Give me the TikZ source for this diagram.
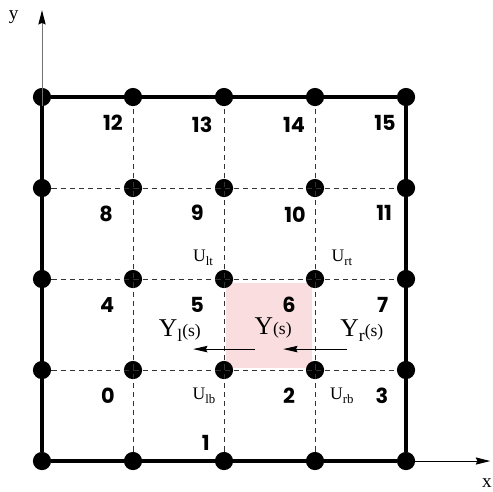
\documentclass[tikz,border=0pt]{standalone}
\usepackage{fontspec}
\setmainfont{Liberation Serif}
\newfontfamily\numfont{Poppins}
\usepackage{tikz}
\usetikzlibrary{arrows.meta}
\definecolor{cellpink}{RGB}{250,222,223}
\newcommand{\Ulab}[1]{{\fontsize{11}{11}\selectfont U\raisebox{-2.5pt}{\fontsize{8}{8}\selectfont #1}}}
\newcommand{\Ylab}[1]{{\fontsize{16}{16}\selectfont Y}{\fontsize{11}{11}\selectfont\raisebox{-3pt}{#1}(s)}}

\begin{document}
\begin{tikzpicture}[>=Stealth,
    dot/.style={circle, fill=black, minimum size=0.4cm, inner sep=0pt},
    num/.style={inner sep=0pt, font=\numfont\bfseries\fontsize{13}{13}\selectfont},
    ulbl/.style={inner sep=0pt},
    border/.style={line width=2.5pt},
    gridline/.style={dashed, black!80, line width=0.6pt, dash pattern=on 3.2pt off 2.5pt},
    axis/.style={line width=0.6pt, -{Stealth[length=9pt, width=4.5pt, inset=1pt, color=black]}},
    flow/.style={line width=0.6pt, -{Stealth[length=9pt, width=4pt, inset=1pt]}}]
        \useasboundingbox (-0.923,-0.659) rectangle (9.912,10.132);

        % Highlighted cell
        \fill[cellpink] (4.05,2.05) rectangle (5.93,3.92);

        % Grid points
        \node[dot] (a0) at (0,0) {};
        \node[dot] (a1) at (2,0) {};
        \node[dot] (a2) at (4,0) {};
        \node[dot] (a3) at (6,0) {};
        \node[dot] (a4) at (8,0) {};
        \node[dot] (b0) at (0,2) {};
        \node[dot] (b1) at (2,2) {};
        \node[dot] (b2) at (4,2) {};
        \node[dot] (b3) at (6,2) {};
        \node[dot] (b4) at (8,2) {};
        \node[dot] (c0) at (0,4) {};
        \node[dot] (c1) at (2,4) {};
        \node[dot] (c2) at (4,4) {};
        \node[dot] (c3) at (6,4) {};
        \node[dot] (c4) at (8,4) {};
        \node[dot] (d0) at (0,6) {};
        \node[dot] (d1) at (2,6) {};
        \node[dot] (d2) at (4,6) {};
        \node[dot] (d3) at (6,6) {};
        \node[dot] (d4) at (8,6) {};
        \node[dot] (e0) at (0,8) {};
        \node[dot] (e1) at (2,8) {};
        \node[dot] (e2) at (4,8) {};
        \node[dot] (e3) at (6,8) {};
        \node[dot] (e4) at (8,8) {};

        % Axes
        \coordinate (xtip) at (9.85,0);
        \coordinate (ytip) at (0,9.91);
        \draw[axis, black!55] (a0) -- (ytip);
        \draw[axis] (a4) -- (xtip);
        \node[ulbl, font=\fontsize{12}{12}\selectfont] (ylab) at (-0.62,9.76) {y};
        \node[ulbl, font=\fontsize{12}{12}\selectfont] (xlab) at (9.78,-0.48) {x};

        % Dashed grid lines
        \draw[gridline] (a1) -- (e1);
        \draw[gridline] (a2) -- (e2);
        \draw[gridline] (a3) -- (e3);
        \draw[gridline] (b0) -- (b4);
        \draw[gridline] (c0) -- (c4);
        \draw[gridline] (d0) -- (d4);

        % Outer boundary
        \draw[border] (a0) -- (a4) -- (e4) -- (e0) -- (a0);

        % Cell numbers
        \node[num] (n12) at (1.56,7.43) {12};
        \node[num] (n13) at (3.52,7.38) {13};
        \node[num] (n14) at (5.54,7.38) {14};
        \node[num] (n15) at (7.54,7.43) {15};
        \node[num] (n8) at (1.41,5.43) {8};
        \node[num] (n9) at (3.41,5.45) {9};
        \node[num] (n10) at (5.56,5.41) {10};
        \node[num] (n11) at (7.52,5.45) {11};
        \node[num] (n4) at (1.43,3.43) {4};
        \node[num] (n5) at (3.41,3.43) {5};
        \node[num] (n6) at (5.43,3.43) {6};
        \node[num] (n7) at (7.49,3.43) {7};
        \node[num] (n0) at (1.45,1.43) {0};
        \node[num] (n2) at (5.43,1.43) {2};
        \node[num] (n3) at (7.47,1.43) {3};
        \node[num] (n1) at (3.60,0.40) {1};

        % Corner values
        \node[ulbl] (ult) at (3.54,4.46) {\Ulab{lt}};
        \node[ulbl] (urt) at (6.59,4.46) {\Ulab{rt}};
        \node[ulbl] (ulb) at (3.56,1.43) {\Ulab{lb}};
        \node[ulbl] (urb) at (6.59,1.43) {\Ulab{rb}};

        % Fluxes
        \node[ulbl] (yl) at (3.03,2.86) {\Ylab{l}};
        \node[ulbl] (yc) at (5.08,2.92) {\Ylab{}};
        \node[ulbl] (yr) at (7.03,2.86) {\Ylab{r}};
        \coordinate (yl1) at (4.68,2.46);
        \coordinate (yl2) at (3.32,2.46);
        \coordinate (yr1) at (6.70,2.46);
        \coordinate (yr2) at (5.30,2.46);
        \draw[flow] (yl1) -- (yl2);
        \draw[flow] (yr1) -- (yr2);
    \end{tikzpicture}
\end{document}
